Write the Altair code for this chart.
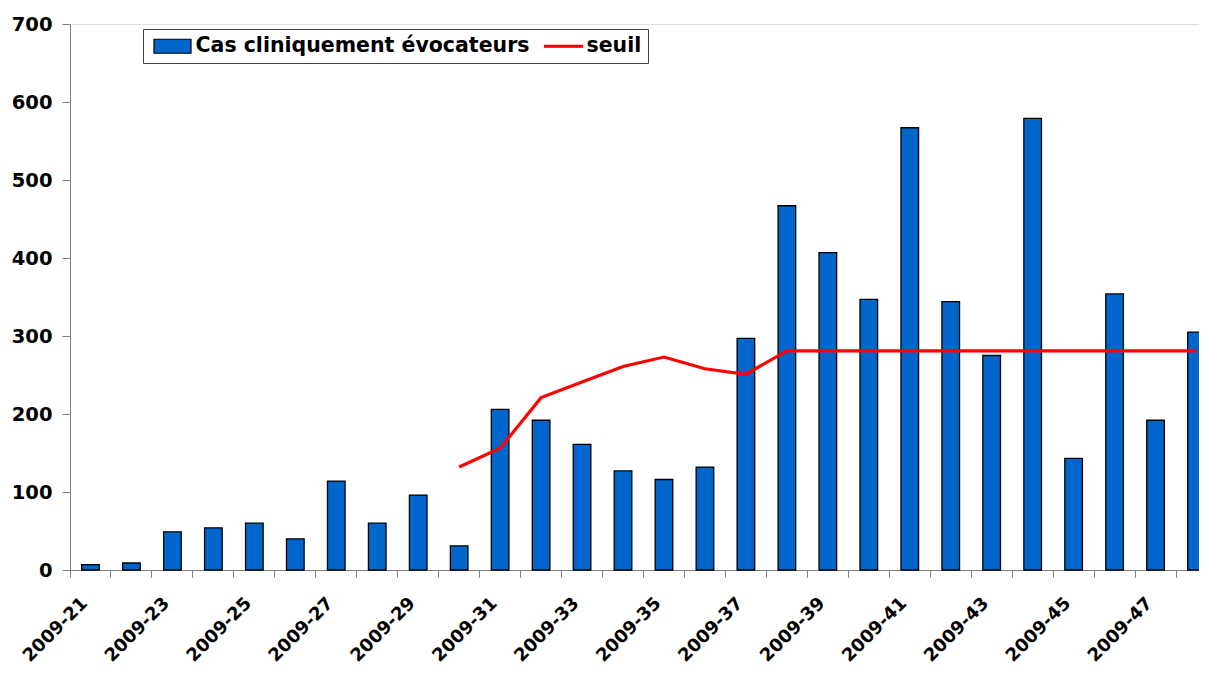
import altair as alt
import pandas as pd

weeks = ["2009-%d" % w for w in range(21, 49)]
cases = [7, 9, 49, 54, 60, 40, 114, 60, 96, 31,
         206, 192, 161, 127, 116, 132, 297, 467, 407, 347,
         567, 344, 275, 579, 143, 354, 192, 305]
seuil = [None, None, None, None, None, None, None, None, None, 132,
         156, 221, 241, 261, 273, 258, 251, 281, 281, 281,
         281, 281, 281, 281, 281, 281, 281, 281]

SERIES = ["Cas cliniquement évocateurs", "seuil"]
BAR_COLOR = "#0066CC"
LINE_COLOR = "#FF0000"

df = pd.DataFrame({"week": weeks, "cases": cases, "seuil": seuil})
legend_df = pd.DataFrame({"serie": SERIES})

FONT = "DejaVu Sans"

x_enc = alt.X(
    "week:N",
    sort=weeks,
    scale=alt.Scale(paddingInner=0, paddingOuter=0),
    axis=alt.Axis(
        title=None,
        labelAngle=-45,
        labelAlign="right",
        labelBaseline="top",
        labelFont=FONT,
        labelFontWeight="bold",
        labelFontSize=18,
        labelColor="black",
        labelPadding=17,
        labelOffset=-12,
        bandPosition=0,
        labelExpr="toNumber(slice(datum.value, 5)) % 2 == 1 ? datum.label : ''",
        labelOverlap=False,
        tickSize=7,
        tickColor="#808080",
        domainColor="#808080",
        grid=False,
    ),
)

y_scale = alt.Scale(domain=[0, 700], nice=False)
y_axis = alt.Axis(
    title=None,
    values=[0, 100, 200, 300, 400, 500, 600, 700],
    labelFont=FONT,
    labelFontWeight="bold",
    labelFontSize=19.5,
    labelColor="black",
    labelPadding=10,
    tickSize=8,
    tickColor="#808080",
    domainColor="#808080",
    grid=False,
)

bars = alt.Chart(df).mark_bar(
    width={"band": 0.43}, fill=BAR_COLOR, stroke="black", strokeWidth=1.3
).encode(
    x=x_enc,
    y=alt.Y("cases:Q", scale=y_scale, axis=y_axis),
)

line = alt.Chart(df).transform_filter("datum.seuil != null").mark_line(
    strokeWidth=3.2, color=LINE_COLOR
).encode(
    x=x_enc,
    y=alt.Y("seuil:Q", scale=y_scale, axis=y_axis),
)

legend = alt.Legend(
    title=None,
    orient="none",
    legendX=73,
    legendY=5,
    direction="horizontal",
    labelFont=FONT,
    labelFontWeight="bold",
    labelFontSize=20.5,
    labelColor="black",
    labelLimit=600,
    labelOffset=12,
    symbolOffset=12.5,
    columnPadding=10,
    padding=6,
    strokeColor="#404040",
    fillColor="white",
    symbolSize=400,
    symbolStrokeWidth=1.2,
    symbolOpacity=1,
)

RECT_PATH = "M-1.85,-0.7H1.85V0.7H-1.85Z"
LINE_PATH = "M-1.9,-0.09H1.9V0.09H-1.9Z"

legend_layer = alt.Chart(legend_df).transform_filter("false").mark_point(
    filled=True
).encode(
    color=alt.Color("serie:N", scale=alt.Scale(domain=SERIES, range=[BAR_COLOR, LINE_COLOR]), legend=legend),
    shape=alt.Shape("serie:N", scale=alt.Scale(domain=SERIES, range=[RECT_PATH, LINE_PATH]), legend=legend),
    stroke=alt.Stroke("serie:N", scale=alt.Scale(domain=SERIES, range=["black", LINE_COLOR]), legend=legend),
)

chart = alt.layer(bars, line, legend_layer).properties(
    width=1147,
    height=546,
    autosize=alt.AutoSizeParams(type="none"),
    padding={"left": 62, "top": 16, "right": -18, "bottom": 95},
).configure_view(stroke=None).configure(background="white")

chart.save("out.html", embed_options={"renderer": "svg", "actions": False})
